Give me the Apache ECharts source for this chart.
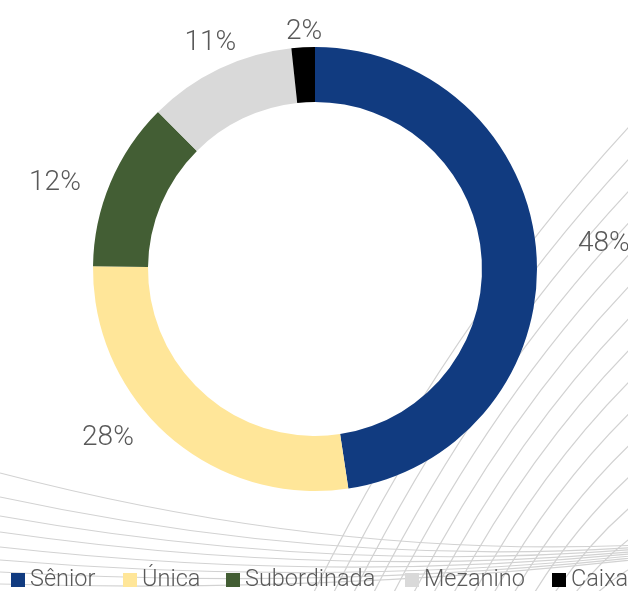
<!DOCTYPE html>
<html>
<head>
<meta charset="utf-8">
<script src="https://cdn.jsdelivr.net/npm/echarts@6/dist/echarts.min.js"></script>
<style>
  html, body { margin: 0; padding: 0; background: #ffffff; }
  #chart { width: 628px; height: 591px; }
</style>
</head>
<body>
<div id="chart"></div>
<script>
// ---- data ----
const categories = ['Sênior', 'Única', 'Subordinada', 'Mezanino', 'Caixa'];
const values = [47.6, 27.6, 12.3, 10.8, 1.7];

// ---- styles ----
const sliceColors = ['#113B80', '#FFE699', '#435E34', '#D9D9D9', '#000000'];
const CX = 315, CY = 269, R_IN = 167, R_OUT = 222;
// label placement (distance from centre in px, angular nudge in degrees)
const labelPlace = {
  'Sênior':      { dist: 290, turn: -0.6 },
  'Única':       { dist: 267, turn: 9.8 },
  'Subordinada': { dist: 274, turn: -4.5 },
  'Mezanino':    { dist: 249, turn: 0.7 },
  'Caixa':       { dist: 237, turn: 0.4 }
};
// legend entry left edges (px)
const legendLefts = [11, 123, 226, 405, 552];
const textColor = '#595959';
const fontFam = 'Roboto, "Noto Sans", sans-serif';
const decorColor = '#D2D2D2';

// decorative background curves
const decor = [];
for (let i = 0; i < 16; i++) {
  const sx = 310 + 20 * i, sy = 600, ex = 640, ey = 115 + 32 * i;
  decor.push({
    type: 'bezierCurve', z: -10, silent: true,
    shape: { x1: sx, y1: sy, x2: ex, y2: ey,
             cpx1: sx + 0.42 * (ex - sx), cpy1: sy + 0.58 * (ey - sy) },
    style: { stroke: decorColor, lineWidth: 1.2, fill: null }
  });
}
const leftStarts = [473, 497, 516, 532, 547, 560, 572, 584];
leftStarts.forEach(function (sy, i) {
  const ey = 545 + i * 2;
  decor.push({
    type: 'bezierCurve', z: -10, silent: true,
    shape: { x1: 0, y1: sy, x2: 640, y2: ey, cpx1: 330, cpy1: (sy + ey) / 2 + 50 - i * 4 },
    style: { stroke: decorColor, lineWidth: 1.2, fill: null }
  });
});

const total = values.reduce(function (a, b) { return a + b; }, 0);
function midAngle(idx) {
  let acc = 0;
  for (let k = 0; k < idx; k++) acc += values[k];
  return (acc + values[idx] / 2) / total * 360; // clockwise from top
}

const legends = categories.map(function (name, i) {
  return {
    left: legendLefts[i],
    top: 568,
    padding: 0,
    itemWidth: 14,
    itemHeight: 14,
    icon: 'rect',
    selectedMode: false,
    textStyle: { color: textColor, fontSize: 23.5, fontFamily: fontFam, fontWeight: 300, lineHeight: 24 },
    data: [name]
  };
});

const chart = echarts.init(document.getElementById('chart'), null, { renderer: 'canvas' });
chart.setOption({
  animation: false,
  backgroundColor: '#ffffff',
  graphic: { elements: decor },
  legend: legends,
  series: [{
    type: 'pie',
    center: [CX, CY],
    radius: [R_IN, R_OUT],
    startAngle: 90,
    clockwise: true,
    avoidLabelOverlap: false,
    itemStyle: { borderWidth: 0 },
    emphasis: { disabled: true },
    label: {
      show: true,
      position: 'outside',
      formatter: function (p) { return Math.round(p.value) + '%'; },
      color: textColor,
      fontSize: 28,
      fontFamily: fontFam,
      fontWeight: 300
    },
    labelLine: { show: false },
    labelLayout: function (params) {
      const idx = params.dataIndex;
      const pl = labelPlace[categories[idx]];
      const a = (midAngle(idx) + pl.turn) * Math.PI / 180;
      return {
        x: CX + Math.sin(a) * pl.dist,
        y: CY - Math.cos(a) * pl.dist,
        align: 'center',
        verticalAlign: 'middle'
      };
    },
    data: categories.map(function (name, i) {
      return { name: name, value: values[i], itemStyle: { color: sliceColors[i] } };
    })
  }]
});
</script>
</body>
</html>
